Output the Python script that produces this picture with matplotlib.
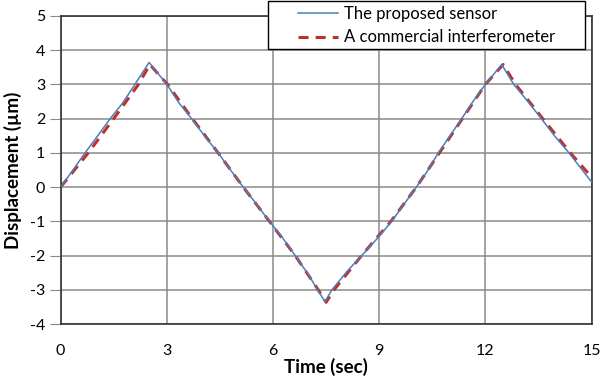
import numpy as np
import matplotlib.pyplot as plt
from matplotlib.patches import Rectangle

plt.rcParams['font.family'] = ['Lato', 'DejaVu Sans']
plt.rcParams['axes.unicode_minus'] = False

# readings from the picture
t_sensor = [0, 0.35, 0.69, 1.05, 1.4, 1.75, 2.1, 2.5, 3.0, 3.35, 3.7, 4.1, 4.45, 4.8, 5.16,
            5.5, 5.9, 6.25, 6.63, 7.0, 7.26, 7.47, 7.66, 8.1, 8.5, 8.9, 9.35, 9.7, 10.05,
            10.35, 10.67, 11.0, 11.33, 11.65, 12.0, 12.46, 12.8, 13.2, 13.58, 13.95, 14.36, 15]
d_sensor = [0, 0.5, 1.0, 1.5, 2.0, 2.45, 3.0, 3.64, 3.0, 2.45, 2.0, 1.45, 1.0, 0.5, 0,
            -0.45, -1.0, -1.45, -2.0, -2.55, -3.0, -3.34, -3.0, -2.45, -2.0, -1.55, -1.0, -0.5, 0,
            0.45, 1.0, 1.5, 2.0, 2.5, 3.0, 3.58, 3.0, 2.5, 2.0, 1.5, 1.0, 0.15]

t_interf = [0, 0.78, 1.5, 2.2, 2.52, 3.02, 3.72, 4.45, 5.16, 5.9, 6.63, 7.28, 7.5,
            7.72, 8.5, 9.33, 10.05, 10.7, 11.35, 12.0, 12.5, 12.85, 13.62, 14.4, 15]
d_interf = [0, 1.0, 2.0, 3.0, 3.58, 3.0, 2.0, 1.0, 0, -1.0, -2.0, -3.0, -3.36,
            -3.0, -2.0, -1.0, 0, 1.0, 2.0, 3.0, 3.58, 3.0, 2.0, 1.0, 0.29]

fig = plt.figure(figsize=(6, 3.77), dpi=100)
ax = fig.add_axes([0.101, 0.14, 0.885, 0.818])

ax.plot(t_sensor, d_sensor, color='#4a7ebb', lw=1.1, label='The proposed sensor', zorder=3)
ax.plot(t_interf, d_interf, color='#c0302b', lw=2.2, dashes=(3.3, 2.3),
        label='A commercial interferometer', zorder=2)

ax.set_xlim(0, 15)
ax.set_ylim(-4, 5)
ax.set_xticks(np.arange(0, 16, 3))
ax.set_yticks(np.arange(-4, 6, 1))
ax.grid(True, color='#8a8a8a', lw=1.1)
ax.set_axisbelow(True)
for s in ax.spines.values():
    s.set_color('#333333')
    s.set_linewidth(1.2)
ax.tick_params(axis='x', length=0, pad=14, labelsize=11.5)
ax.tick_params(axis='y', length=8, color='#8a8a8a', pad=3, labelsize=11.5)

ax.set_xlabel('Time (sec)', fontsize=13.5, fontweight='bold', labelpad=0)
ax.set_ylabel('Displacement (µm)', fontsize=13.5, fontweight='bold', labelpad=6)

# legend box (Excel style, wider than its contents)
box = Rectangle((268 / 600, 1 - 49 / 377), 317 / 600, 48 / 377, transform=fig.transFigure,
                facecolor='white', edgecolor='black', lw=1.0, zorder=9)
fig.patches.append(box)
leg = fig.legend(*ax.get_legend_handles_labels(), loc='upper left',
                 bbox_to_anchor=(298 / 600, 1 - 6 / 377), fontsize=12,
                 frameon=False, handlelength=2.4, borderpad=0, labelspacing=0.45,
                 borderaxespad=0, handletextpad=0.35)
leg.set_zorder(10)

fig.savefig('out.png', dpi=100)
